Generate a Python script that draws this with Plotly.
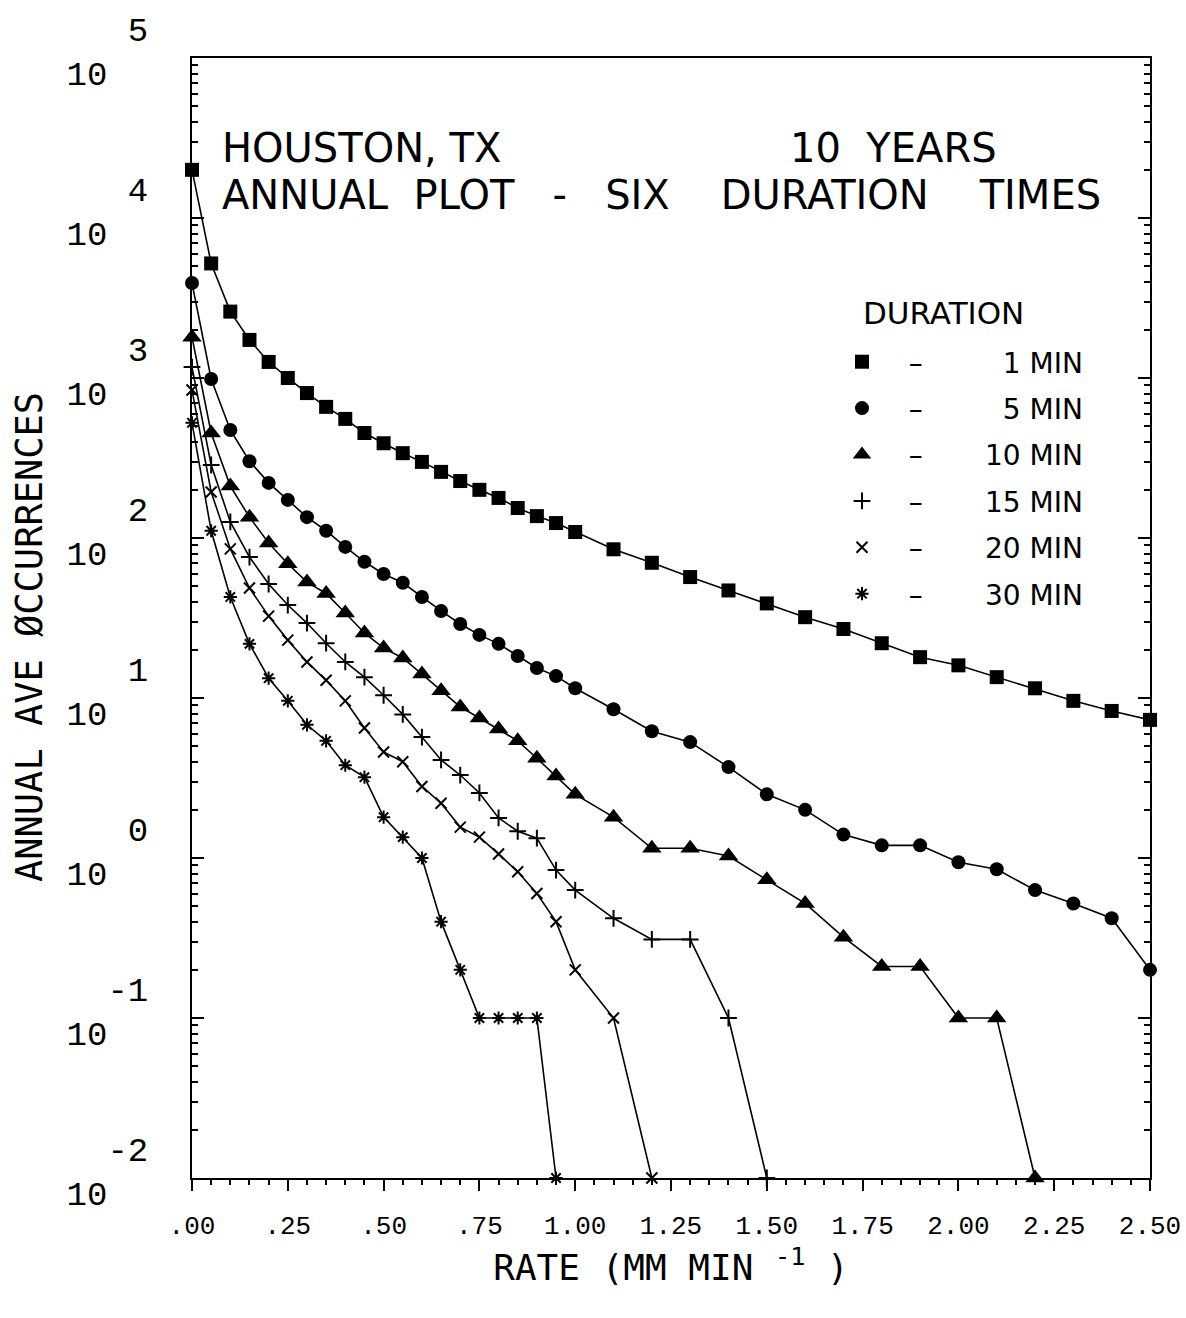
import plotly.graph_objects as go

# Rainfall rate thresholds (mm/min): 0.05 steps to 1.0, then 0.1 steps to 2.5
RATE = [0.00, 0.05, 0.10, 0.15, 0.20, 0.25, 0.30, 0.35, 0.40, 0.45, 0.50,
        0.55, 0.60, 0.65, 0.70, 0.75, 0.80, 0.85, 0.90, 0.95, 1.00,
        1.10, 1.20, 1.30, 1.40, 1.50, 1.60, 1.70, 1.80, 1.90, 2.00,
        2.10, 2.20, 2.30, 2.40, 2.50]

# Annual average occurrences exceeding each rate, per averaging duration
OCC_1MIN = [20000, 5200, 2600, 1730, 1260, 1000, 805, 660, 555, 453, 391,
            339, 299, 259, 227, 200, 178, 154, 137, 124, 109,
            85, 70, 57, 47, 39, 32, 27, 22, 18, 16,
            13.5, 11.5, 9.6, 8.3, 7.3]
OCC_5MIN = [3920, 986, 473, 302, 221, 173, 135, 111, 88, 71, 59.6,
            52.5, 42.8, 35, 29, 24.8, 21.8, 18.3, 15.4, 13.7, 11.5,
            8.5, 6.2, 5.3, 3.7, 2.5, 2.0, 1.4, 1.2, 1.2, 0.94,
            0.85, 0.63, 0.52, 0.42, 0.2]
OCC_10MIN = [1800, 453, 211, 135, 93, 69, 53, 45, 34, 25.5, 20.5,
             17.8, 14.1, 11.1, 8.8, 7.5, 6.4, 5.4, 4.2, 3.25, 2.5,
             1.8, 1.15, 1.15, 1.03, 0.73, 0.52, 0.32, 0.21, 0.21, 0.1,
             0.1, 0]
OCC_15MIN = [1170, 286, 126, 76, 51.6, 38.1, 29.4, 22, 16.8, 13.5, 10.4,
             7.9, 5.7, 4.1, 3.3, 2.55, 1.78, 1.47, 1.33, 0.84, 0.63,
             0.42, 0.31, 0.31, 0.1, 0]
OCC_20MIN = [841, 194, 85.5, 48.7, 32.5, 23, 16.8, 12.9, 9.6, 6.5, 4.6,
             4.0, 2.8, 2.2, 1.56, 1.35, 1.06, 0.82, 0.6, 0.4, 0.2,
             0.1, 0]
OCC_30MIN = [525, 111, 42.8, 21.8, 13.3, 9.6, 6.8, 5.4, 3.8, 3.2, 1.8,
             1.35, 1.0, 0.4, 0.2, 0.1, 0.1, 0.1, 0.1, 0]

DURATIONS = [1, 5, 10, 15, 20, 30]
SERIES = [OCC_1MIN, OCC_5MIN, OCC_10MIN, OCC_15MIN, OCC_20MIN, OCC_30MIN]

X_TICKS = [0.0, 0.25, 0.5, 0.75, 1.0, 1.25, 1.5, 1.75, 2.0, 2.25, 2.5]
X_TICK_TEXT = [".00", ".25", ".50", ".75", "1.00", "1.25", "1.50",
               "1.75", "2.00", "2.25", "2.50"]
Y_EXPONENTS = [-2, -1, 0, 1, 2, 3, 4, 5]

FLOOR = 0.01  # zero counts are drawn on the bottom of the log axis

MARKERS = [
    dict(symbol="square", size=14, color="black"),
    dict(symbol="circle", size=14, color="black"),
    dict(symbol="triangle-up", size=17, color="black"),
    dict(symbol="cross-thin-open", size=12, color="black",
         line=dict(width=2, color="black")),
    dict(symbol="x-thin-open", size=11, color="black",
         line=dict(width=2, color="black")),
    dict(symbol="asterisk-open", size=11, color="black",
         line=dict(width=2, color="black")),
]

FS = "\u2007"   # figure space (digit width)
NB = "\u00a0"   # no-break space

fig = go.Figure()

for dur, occ, mk in zip(DURATIONS, SERIES, MARKERS):
    xs = RATE[:len(occ)]
    ys = [max(v, FLOOR) for v in occ]
    fig.add_trace(go.Scatter(
        x=xs, y=ys, mode="lines", line=dict(color="black", width=1.6),
        showlegend=False, cliponaxis=False, hoverinfo="skip"))
    num = str(dur).rjust(2, FS)
    label = f"{FS}{NB}\u2013{FS}{FS}{FS}{NB}{num}{NB}MIN"
    fig.add_trace(go.Scatter(
        x=xs, y=ys, mode="markers", marker=mk, name=label,
        legendgroup=f"d{dur}", cliponaxis=False))

y_tickvals = [10.0 ** e for e in Y_EXPONENTS]
y_ticktext = [f"{e}<br>10{NB}{NB}" for e in Y_EXPONENTS]
y_minor = [k * 10.0 ** e for e in Y_EXPONENTS[:-1] for k in range(2, 10)]

mono = "Liberation Mono, DejaVu Sans Mono, monospace"

fig.update_layout(
    width=1186, height=1318,
    margin=dict(l=192, r=36, t=58, b=140, autoexpand=False),
    paper_bgcolor="white", plot_bgcolor="white",
    font=dict(family="DejaVu Sans", color="black"),
    showlegend=True,
    legend=dict(
        x=(842 - 192) / 958, xanchor="left",
        y=(1178 - 337) / 1120, yanchor="top",
        bgcolor="rgba(0,0,0,0)", borderwidth=0,
        font=dict(family="DejaVu Sans", size=28, color="black"),
        traceorder="grouped", tracegroupgap=7, itemsizing="trace",
    ),
    xaxis=dict(
        range=[0, 2.5], tickmode="array", tickvals=X_TICKS,
        ticktext=X_TICK_TEXT, ticks="outside", ticklen=11, tickwidth=2,
        tickcolor="black", showline=True, linecolor="black", linewidth=2,
        mirror=True, showgrid=False, zeroline=False,
        tickfont=dict(family=mono, size=26, color="black"),
        ticklabelstandoff=12,
        minor=dict(dtick=0.05, ticks="outside", ticklen=5, tickwidth=1.5,
                   tickcolor="black", showgrid=False),
        title=dict(text="RATE (MM MIN <sup>-1</sup> )",
                   font=dict(family="DejaVu Sans Mono", size=36,
                             color="black"),
                   standoff=13),
    ),
    yaxis=dict(
        type="log", range=[-2, 5], tickmode="array", tickvals=y_tickvals,
        ticktext=y_ticktext, ticks="inside", ticklen=12, tickwidth=2,
        tickcolor="black", showline=True, linecolor="black", linewidth=2,
        mirror="ticks", showgrid=False, zeroline=False,
        tickfont=dict(family=mono, size=34, color="black"),
        ticklabelstandoff=35, ticklabelshift=-7,
        minor=dict(tickmode="array", tickvals=y_minor, ticks="inside",
                   ticklen=6, tickwidth=1.5, tickcolor="black",
                   showgrid=False),
    ),
)

# Vertical axis caption
fig.add_annotation(xref="paper", yref="paper", x=(29 - 192) / 958,
                   y=(1178 - 637) / 1120, xanchor="center", yanchor="middle",
                   textangle=-90, text="ANNUAL AVE \u00d8CCURRENCES",
                   showarrow=False,
                   font=dict(family="DejaVu Sans Mono", size=37,
                             color="black"))

# Legend heading
fig.add_annotation(xref="paper", yref="paper", x=(861 - 192) / 958,
                   y=(1178 - 313) / 1120, xanchor="left", yanchor="middle",
                   text="DURATION", showarrow=False,
                   font=dict(family="DejaVu Sans", size=31, color="black"))

title_font = dict(family="DejaVu Sans", size=40, color="black")
fig.add_annotation(xref="paper", yref="paper", x=(220 - 192) / 958,
                   y=(1178 - 148) / 1120, xanchor="left", yanchor="middle",
                   text=f"HOUSTON,{NB}TX", showarrow=False, font=title_font)
fig.add_annotation(xref="paper", yref="paper", x=(788 - 192) / 958,
                   y=(1178 - 148) / 1120, xanchor="left", yanchor="middle",
                   text=f"10{NB}{NB}YEARS", showarrow=False,
                   font=title_font)
fig.add_annotation(xref="paper", yref="paper", x=(220 - 192) / 958,
                   y=(1178 - 195) / 1120, xanchor="left", yanchor="middle",
                   text=(f"ANNUAL{NB}{NB}PLOT{NB}{NB}{NB}-{NB}{NB}{NB}SIX"
                         f"{NB}{NB}{NB}{NB}DURATION{NB}{NB}{NB}{NB}TIMES"),
                   showarrow=False, font=title_font)

fig.write_html("out.html")
